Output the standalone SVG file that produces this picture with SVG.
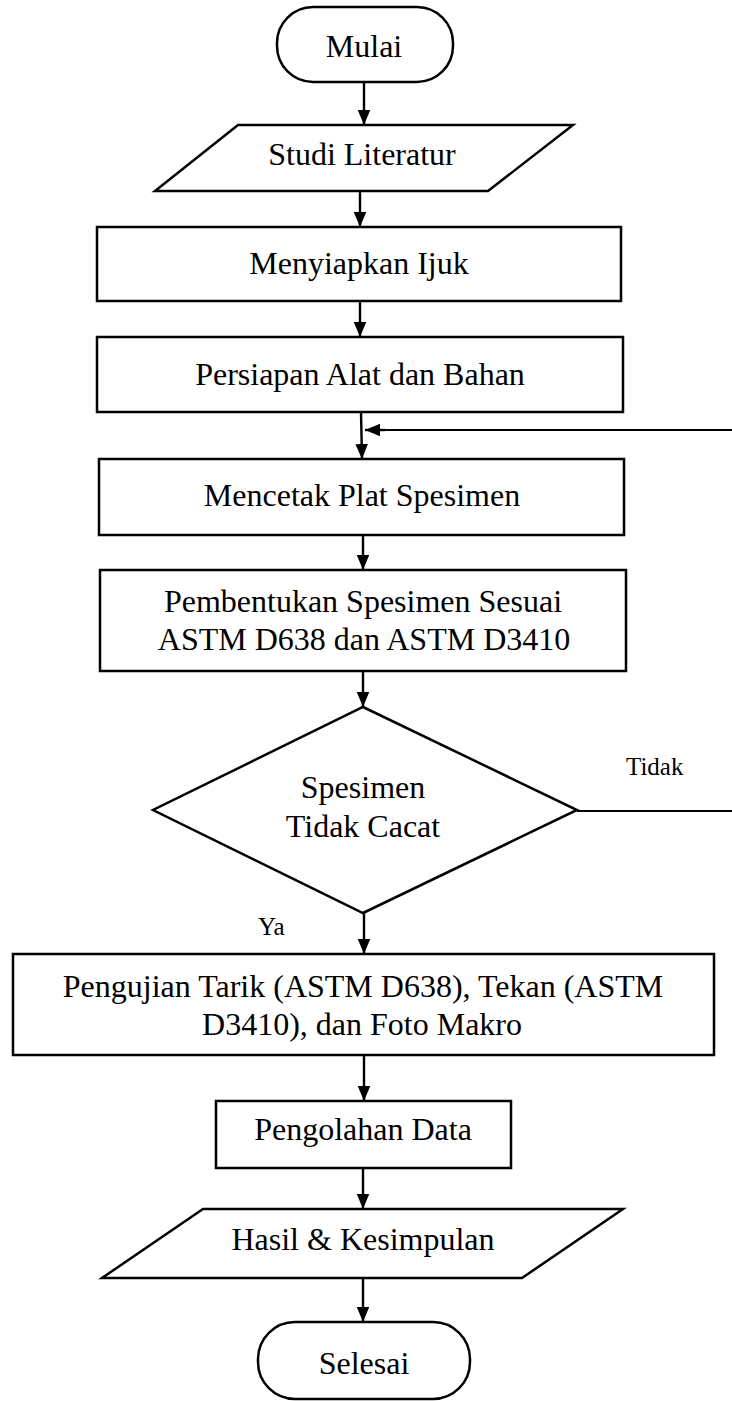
<svg xmlns="http://www.w3.org/2000/svg" width="732" height="1401" viewBox="0 0 732 1401">
<defs>
<marker id="ah" markerWidth="15" markerHeight="18" refX="18" refY="7.5" orient="auto" markerUnits="userSpaceOnUse" viewBox="0 0 18 15">
<path d="M0,0 L18,7.5 L0,15 Z" fill="#000"/>
</marker>
<style>
.s{fill:#fff;stroke:#000;stroke-width:2.5}
.t{font-family:"Liberation Serif","Times New Roman",serif;font-size:32px;fill:#000;text-anchor:middle}
.l{font-family:"Liberation Serif","Times New Roman",serif;font-size:25px;fill:#000}
.c{fill:none;stroke:#000;stroke-width:2.4}
.c2{fill:none;stroke:#000;stroke-width:1.8}
</style>
</defs>
<rect width="732" height="1401" fill="#fff"/>
<g id="connectors">
<line class="c" x1="364" y1="82" x2="364" y2="125" marker-end="url(#ah)"/>
<line class="c" x1="360" y1="191" x2="360" y2="227" marker-end="url(#ah)"/>
<line class="c" x1="360" y1="301" x2="360" y2="337" marker-end="url(#ah)"/>
<line class="c" x1="361" y1="412" x2="362" y2="459" marker-end="url(#ah)"/>
<line class="c" x1="363" y1="535" x2="363" y2="570" marker-end="url(#ah)"/>
<line class="c" x1="363" y1="671" x2="363" y2="707" marker-end="url(#ah)"/>
<line class="c" x1="364" y1="913" x2="364" y2="954" marker-end="url(#ah)"/>
<line class="c" x1="364" y1="1055" x2="364" y2="1101" marker-end="url(#ah)"/>
<line class="c" x1="363" y1="1168" x2="363" y2="1209" marker-end="url(#ah)"/>
<line class="c" x1="363" y1="1278" x2="363" y2="1322" marker-end="url(#ah)"/>
<path class="c2" d="M577,811 H745 V430 H380"/>
<line class="c" x1="385" y1="430" x2="365" y2="430" marker-end="url(#ah)"/>
<text class="l" x="626" y="775">Tidak</text>
<text class="l" x="258" y="935">Ya</text>
</g>
<g id="mulai">
<rect class="s" x="277" y="7" width="176" height="75" rx="36" ry="36"/>
<text class="t" x="364" y="57">Mulai</text>
</g>
<g id="studi">
<polygon class="s" points="238,125 573,125 488,191 155,191"/>
<text class="t" x="362" y="165">Studi Literatur</text>
</g>
<g id="ijuk">
<rect class="s" x="97" y="227" width="524" height="74"/>
<text class="t" x="359" y="274">Menyiapkan Ijuk</text>
</g>
<g id="persiapan">
<rect class="s" x="97" y="337" width="526" height="75"/>
<text class="t" x="360" y="385">Persiapan Alat dan Bahan</text>
</g>
<g id="mencetak">
<rect class="s" x="99" y="459" width="525" height="76"/>
<text class="t" x="362" y="506">Mencetak Plat Spesimen</text>
</g>
<g id="pembentukan">
<rect class="s" x="100" y="570" width="526" height="101"/>
<text class="t" x="363" y="612">Pembentukan Spesimen Sesuai</text>
<text class="t" x="364" y="650">ASTM D638 dan ASTM D3410</text>
</g>
<g id="keputusan">
<polygon class="s" points="363,707 577,810 363,913 153,810"/>
<text class="t" x="363" y="798">Spesimen</text>
<text class="t" x="363" y="837">Tidak Cacat</text>
</g>
<g id="pengujian">
<rect class="s" x="13" y="954" width="701" height="101"/>
<text class="t" x="363" y="997">Pengujian Tarik (ASTM D638), Tekan (ASTM</text>
<text class="t" x="362" y="1035">D3410), dan Foto Makro</text>
</g>
<g id="pengolahan">
<rect class="s" x="216" y="1101" width="295" height="67"/>
<text class="t" x="363" y="1140">Pengolahan Data</text>
</g>
<g id="hasil">
<polygon class="s" points="203,1209 623,1209 522,1278 102,1278"/>
<text class="t" x="363" y="1250">Hasil &amp; Kesimpulan</text>
</g>
<g id="selesai">
<rect class="s" x="258" y="1322" width="212" height="77" rx="37" ry="37"/>
<text class="t" x="364" y="1374">Selesai</text>
</g>
</svg>
